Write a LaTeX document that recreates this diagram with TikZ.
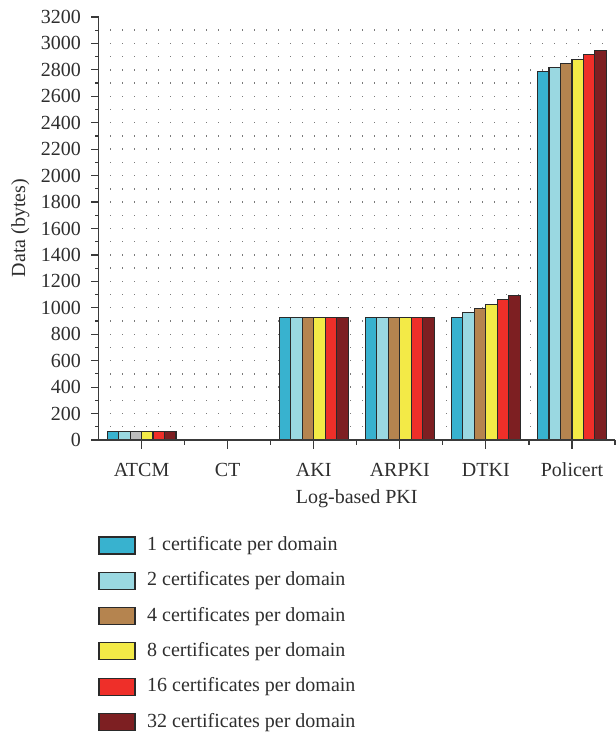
\documentclass[tikz,border=0pt]{standalone}
\usepackage{fontspec}
\setmainfont{Liberation Serif}

\definecolor{txt}{HTML}{2E2E2E}
\definecolor{axisc}{HTML}{3A3A3A}
\definecolor{dotc}{HTML}{7A7A7A}
\definecolor{barline}{HTML}{2A2A2A}
\definecolor{cOne}{HTML}{38B2CF}
\definecolor{cTwo}{HTML}{9AD8E1}
\definecolor{cFour}{HTML}{B5844F}
\definecolor{cEight}{HTML}{F3EA47}
\definecolor{cSixteen}{HTML}{EE2F29}
\definecolor{cThirtyTwo}{HTML}{7D1F22}
\definecolor{cGrey}{HTML}{BDBDBD}

\tikzset{
  axisline/.style={draw=axisc, line width=1.4pt},
  tickline/.style={draw=axisc, line width=1.2pt},
  barbox/.style={draw=barline, line width=1.1pt},
  keybox/.style={draw=barline, line width=1.1pt},
  ticklabel/.style={text=txt, inner sep=0pt},
  keylabel/.style={text=txt, inner sep=0pt, anchor=base west}
}

\begin{document}
\begin{tikzpicture}[x=1pt, y=1pt, font=\fontsize{20}{24}\selectfont]
\useasboundingbox (0,0) rectangle (615,735);

% plot area: origin at the axes corner, one data unit per 0.1322pt vertically
\begin{scope}[shift={(98.5,295)}, y=0.1322pt]
  % dotted background grid
  \foreach \k in {1,...,42}
    \foreach \v in {100,200,...,3100}
      \fill[dotc] (\k*12,\v) ++(-0.7pt,-0.7pt) rectangle ++(1.4pt,1.4pt);

  % bars: category index / list of six fill colours / list of six values
  \foreach \cat/\cols/\vals in {
      0/{cOne,cTwo,cGrey,cEight,cSixteen,cThirtyTwo}/{65,65,65,65,65,65},
      2/{cOne,cTwo,cFour,cEight,cSixteen,cThirtyTwo}/{925,925,925,925,925,925},
      3/{cOne,cTwo,cFour,cEight,cSixteen,cThirtyTwo}/{925,925,925,925,925,925},
      4/{cOne,cTwo,cFour,cEight,cSixteen,cThirtyTwo}/{928,961,994,1027,1060,1093},
      5/{cOne,cTwo,cFour,cEight,cSixteen,cThirtyTwo}/{2785,2817,2849,2881,2913,2945}} {
    \foreach \col [count=\j from 0] in \cols {
      \foreach \val [count=\m from 0] in \vals {
        \ifnum\m=\j
          \filldraw[barbox, fill=\col]
            ({86.08*\cat+43.04-34.43+11.477*\j},0) rectangle
            ({86.08*\cat+43.04-34.43+11.477*(\j+1)},\val);
        \fi
      }
    }
  }

  % y axis ticks and labels
  \foreach \v in {0,200,...,3200}
    \draw[tickline] (0,\v) -- ++(-8pt,0);
  \foreach \v in {100,300,...,3100}
    \draw[tickline] (0,\v) -- ++(-4pt,0);
  \foreach \v in {0,200,...,3200}
    \node[ticklabel, anchor=east] (ylab\v) at ([xshift=-17.5pt]0,\v) {\v};

  % x axis ticks
  \foreach \i in {1,...,6}
    \draw[tickline] ({86.08*\i},0) -- ++(0,-5pt);
  \foreach \i in {0,...,5}
    \draw[tickline] ({86.08*\i+43.04},0) -- ++(0,-9pt);

  % axes
  \draw[axisline] (0,3200) -- (0,0) -- (516.5,0);

  % category labels
  \foreach \i/\name in {0/ATCM,1/CT,2/AKI,3/ARPKI,4/DTKI,5/Policert}
    \node[ticklabel, anchor=base] (cat\i) at ([yshift=-37pt]{86.08*\i+43.04},0) {\name};
  \node[ticklabel, anchor=base] (xtitle) at ([yshift=-64pt]258.25,0) {Log-based PKI};
\end{scope}

\node[ticklabel, anchor=base, rotate=90] (ytitle) at (25,507) {Data (bytes)};

% legend
\foreach \k/\col/\lab in {
    0/cOne/{1 certificate per domain},
    1/cTwo/{2 certificates per domain},
    2/cFour/{4 certificates per domain},
    3/cEight/{8 certificates per domain},
    4/cSixteen/{16 certificates per domain},
    5/cThirtyTwo/{32 certificates per domain}} {
  \filldraw[keybox, fill=\col] (99,{189.5-35.3*\k-8.5}) rectangle (135,{189.5-35.3*\k+8.5});
  \node[keylabel] (key\k) at (147,{189.5-35.3*\k-5}) {\lab};
}
\end{tikzpicture}
\end{document}
